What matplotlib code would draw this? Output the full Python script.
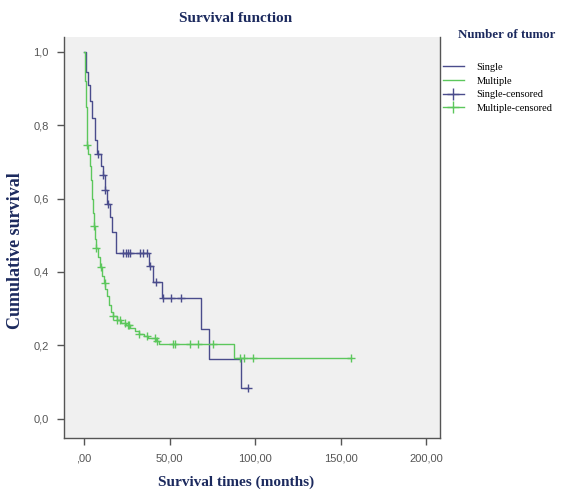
import numpy as np
import matplotlib.pyplot as plt
from matplotlib.lines import Line2D

# Kaplan-Meier steps (time in months, survival after step)
single_times = [0, 1.0, 2.2, 3.4, 4.6, 6.2, 7.5, 9.8, 11.0, 12.0, 13.6, 15.0,
                16.5, 18.8, 38.2, 40.5, 45.4, 68.4, 73.1, 91.6, 95.5]
single_surv = [1.0, 0.945, 0.91, 0.865, 0.82, 0.76, 0.72, 0.69, 0.665, 0.624,
               0.586, 0.55, 0.51, 0.453, 0.415, 0.374, 0.329, 0.245, 0.163,
               0.083, 0.083]
single_censored = [8.0, 11.3, 12.3, 14.2, 23.0, 24.4, 25.6, 26.9, 32.7, 34.7,
                   36.7, 38.6, 41.9, 46.4, 50.9, 56.7, 95.5]

multiple_times = [0, 0.5, 1.0, 1.5, 1.9, 2.5, 3.2, 3.9, 4.5, 5.2, 5.8, 6.5,
                  7.0, 8.0, 9.2, 10.5, 11.5, 12.5, 13.5, 14.5, 15.8, 17.0,
                  19.0, 21.5, 24.5, 27.0, 29.5, 32.0, 35.0, 37.5, 42.0, 43.5,
                  87.7, 156.0]
multiple_surv = [1.0, 0.92, 0.85, 0.79, 0.747, 0.72, 0.69, 0.65, 0.6, 0.56,
                 0.524, 0.49, 0.465, 0.44, 0.413, 0.39, 0.37, 0.355, 0.335,
                 0.31, 0.29, 0.279, 0.27, 0.262, 0.256, 0.247, 0.238, 0.231,
                 0.225, 0.22, 0.212, 0.204, 0.165, 0.165]
multiple_censored = [2.0, 5.9, 7.2, 9.7, 12.3, 17.1, 19.3, 21.0, 24.0, 25.5,
                     26.5, 32.2, 36.7, 41.5, 42.5, 52.2, 53.2, 62.0, 66.8,
                     75.6, 91.2, 93.6, 98.6, 156.0]

x_ticks = [0, 50, 100, 150, 200]
x_labels = [',00', '50,00', '100,00', '150,00', '200,00']
y_ticks = [0.0, 0.2, 0.4, 0.6, 0.8, 1.0]
y_labels = ['0,0', '0,2', '0,4', '0,6', '0,8', '1,0']

BLUE = '#4a4c8c'
GREEN = '#5cc75c'
NAVY = '#1c2a5e'
SERIF = ['Liberation Serif', 'DejaVu Serif']


def surv_at(times, surv, t):
    idx = np.searchsorted(times, t, side='right') - 1
    return np.asarray(surv)[idx]


fig = plt.figure(figsize=(5.63, 4.93), dpi=100)
ax = fig.add_axes([0.1137, 0.1116, 0.668, 0.8134])
ax.set_facecolor('#f0f0f0')

ax.step(single_times, single_surv, where='post', color=BLUE, lw=1.0)
ax.step(multiple_times, multiple_surv, where='post', color=GREEN, lw=1.0)
ax.plot(single_censored, surv_at(single_times, single_surv, single_censored),
        linestyle='none', marker='+', color=BLUE, ms=6, mew=1.0)
ax.plot(multiple_censored,
        surv_at(multiple_times, multiple_surv, multiple_censored),
        linestyle='none', marker='+', color=GREEN, ms=6, mew=1.0)

ax.set_xlim(-11.7, 208)
ax.set_ylim(-0.052, 1.04)
ax.set_xticks(x_ticks)
ax.set_xticklabels(x_labels)
ax.set_yticks(y_ticks)
ax.set_yticklabels(y_labels)
ax.tick_params(colors='#555555', labelsize=8, length=5, width=1.0,
               direction='out', pad=6)
for lab in ax.get_xticklabels() + ax.get_yticklabels():
    lab.set_family(['Liberation Sans', 'DejaVu Sans'])

ax.spines['top'].set_visible(False)
for side in ['left', 'bottom', 'right']:
    ax.spines[side].set_color('#555555')
    ax.spines[side].set_linewidth(1.0)

fig.text(0.419, 0.963, 'Survival function', ha='center', va='center',
         family=SERIF, weight='bold', fontsize=11, color=NAVY)
fig.text(0.419, 0.022, 'Survival times (months)', ha='center', va='center',
         family=SERIF, weight='bold', fontsize=11, color=NAVY)
fig.text(0.027, 0.491, 'Cumulative survival', ha='center', va='center',
         rotation=90, family=SERIF, weight='bold', fontsize=13, color=NAVY)
fig.text(0.813, 0.929, 'Number of tumor', ha='left', va='center',
         family=SERIF, weight='bold', fontsize=9.3, color=NAVY)

handles = [Line2D([], [], color=BLUE, lw=1.0),
           Line2D([], [], color=GREEN, lw=1.0),
           Line2D([], [], color=BLUE, marker='+', ms=8, lw=1.0),
           Line2D([], [], color=GREEN, marker='+', ms=8, lw=1.0)]
labels = ['Single', 'Multiple', 'Single-censored', 'Multiple-censored']
fig.legend(handles, labels, loc='upper left',
           bbox_to_anchor=(0.787, 0.873), frameon=False,
           prop={'family': SERIF, 'size': 7.5},
           handlelength=2.0, handletextpad=1.2, labelspacing=0.42,
           borderaxespad=0, borderpad=0)

fig.savefig('out.png', dpi=100)
